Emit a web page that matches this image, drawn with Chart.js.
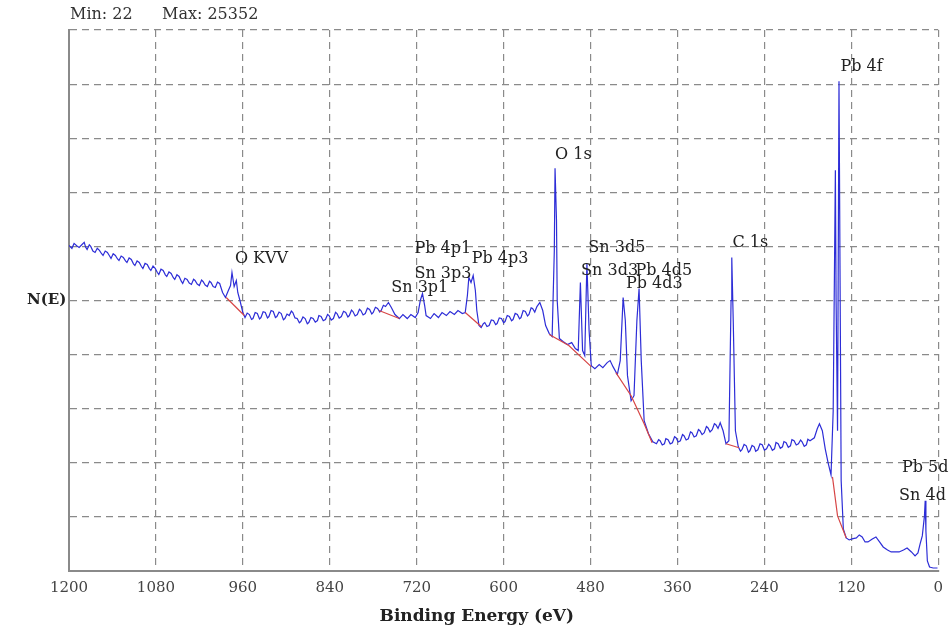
<!DOCTYPE html>
<html>
<head>
<meta charset="utf-8">
<script src="https://cdn.jsdelivr.net/npm/chart.js@4.4.1/dist/chart.umd.min.js"></script>
<style>
  html, body { margin: 0; padding: 0; background: #fff; }
  #wrap { width: 951px; height: 628px; }
</style>
</head>
<body>
<div id="wrap"><canvas id="chart" width="951" height="628"></canvas></div>
<script>
// XPS survey spectrum, binding energy (eV) vs counts
const energy = [
  1200, 1196, 1193, 1189, 1186, 1182, 1179, 1177, 1175, 1172,
  1170, 1167, 1164, 1161, 1158, 1155, 1153, 1150, 1147, 1144,
  1142, 1139, 1136, 1133, 1131, 1128, 1125, 1122, 1120, 1117,
  1114, 1111, 1109, 1106, 1103, 1100, 1098, 1095, 1092, 1089,
  1087, 1084, 1081, 1078, 1076, 1073, 1070, 1067, 1065, 1062,
  1059, 1056, 1054, 1051, 1048, 1045, 1043, 1040, 1037, 1034,
  1031, 1028, 1026, 1023, 1020, 1017, 1015, 1012, 1009, 1006,
  1004, 1001, 998, 995, 992,
  988, 984, 980, 977, 975, 972, 969, 967, 964,
  960, 957, 954, 951, 948, 946, 943, 940, 937, 935,
  932, 929, 926, 924, 921, 918, 915, 913, 910, 907,
  904, 902, 899, 896, 893, 891, 888, 885, 882, 880,
  877, 874, 871, 869, 866, 863, 860, 857, 855, 852,
  849, 846, 843, 841, 838, 835, 832, 830, 827, 824,
  821, 818, 815, 813, 810, 808, 805, 802, 799, 797,
  794, 791, 788, 785, 782, 780, 777, 774, 771, 769,
  766, 763,
  759, 755, 750, 744, 739, 733, 728, 722, 718, 715,
  712, 709, 707, 701, 696, 690, 685, 679, 674, 668,
  663, 657, 653, 650, 648, 645, 642, 639, 637, 634,
  631, 628, 626, 623, 620, 617, 614, 611, 609, 606,
  603, 600, 598, 595, 592, 589, 587, 584, 581, 578,
  576, 573, 570, 567, 565, 562, 560, 557, 554,
  550, 546, 542, 537, 533, 530, 529, 527, 526, 523,
  518, 512, 506, 501, 497, 494, 491, 488, 485, 482,
  479, 474, 468, 463, 457, 453, 449, 443, 439, 435,
  432, 429, 424, 420, 416, 413, 410, 406, 400, 394,
  389, 386, 384, 381, 378, 376, 373, 370, 367, 364,
  362, 359, 356, 353, 351, 348, 345, 342, 340, 337,
  334, 331, 329, 326, 323, 320, 318, 315, 312, 309,
  307, 304, 301,
  297, 293, 289, 286, 285, 283, 280,
  276, 273, 271, 268, 265, 262, 260, 257, 254, 252,
  249, 246, 243, 240, 237, 234, 232, 229, 226, 224,
  221, 218, 215, 213, 210, 207, 204, 202, 199, 196,
  193, 190, 188, 185, 182, 180, 177,
  171, 167, 164, 160, 156, 152, 148, 145, 142, 141,
  139, 137, 134, 131, 127, 123, 119, 113, 109, 105,
  101, 97, 91, 86, 81, 76, 70, 65, 59, 54,
  48, 43, 37, 32, 28, 25, 22, 19, 18, 17,
  15, 12, 7, 1
];
const counts = [
  16851, 16700, 16955, 16820, 16748, 16900, 17007, 16760, 16644, 16880,
  16799, 16560, 16488, 16700, 16592, 16420, 16333, 16560, 16488, 16300,
  16177, 16420, 16333, 16150, 16074, 16300, 16229, 16050, 15970, 16200,
  16125, 15900, 15814, 16050, 15970, 15760, 15659, 15920, 15866, 15650,
  15555, 15780, 15659, 15450, 15348, 15620, 15555, 15330, 15244, 15480,
  15399, 15180, 15088, 15330, 15244, 15000, 14881, 15150, 15088, 14900,
  14829, 15100, 15037, 14850, 14777, 15060, 14985, 14800, 14725, 15000,
  14933, 14720, 14674, 14950, 14881,
  14414, 14155, 14518, 14777, 15451, 14725, 15037, 14414, 14000,
  13377, 13118, 13350, 13274, 13020, 13066, 13380, 13325, 13050, 13118,
  13420, 13377, 13100, 13170, 13480, 13429, 13120, 13170, 13400, 13325,
  13000, 13066, 13300, 13222, 13450, 13377, 13100, 13066, 12850, 12911,
  13150, 13066, 12800, 12859, 13120, 13066, 12880, 12963, 13220, 13170,
  12950, 13014, 13280, 13222, 12990, 13066, 13390, 13325, 13090, 13170,
  13440, 13377, 13150, 13222, 13500, 13429, 13200, 13274, 13550, 13481,
  13250, 13325, 13600, 13533, 13300, 13377, 13650, 13585, 13400, 13481,
  13750, 13688,
  13896, 13637, 13274, 13066, 13274, 13066, 13274, 13118, 13377, 14000,
  14362, 13740, 13222, 13066, 13325, 13118, 13377, 13222, 13429, 13274,
  13481, 13325, 13377, 14259, 15192, 14933, 15296, 14518, 13481, 12703,
  12600, 12800, 12859, 12650, 12703, 12990, 12963, 12750, 12807, 13100,
  13066, 12850, 12911, 13220, 13170, 12950, 13014, 13330, 13274, 13050,
  13118, 13480, 13429, 13200, 13274, 13620, 13585, 13400, 13688,
  13896, 13481, 12703, 12288, 12133, 16592, 20844, 18148, 14000, 12029,
  11874, 11718, 11822, 11511, 11407, 14933, 11407, 11148, 15918, 12444,
  10629, 10474, 10681, 10526, 10785, 10889, 10577, 10163, 10889, 14155,
  12963, 10111, 8815, 9074, 12963, 14622, 10889, 7778, 7103, 6689,
  6585, 6800, 6741, 6520, 6585, 6850, 6792, 6580, 6637, 6950,
  6896, 6680, 6741, 7060, 7000, 6780, 6844, 7200, 7155, 6940,
  7000, 7320, 7259, 7060, 7155, 7480, 7415, 7200, 7311, 7620,
  7570, 7380, 7674,
  7259, 6585, 6741, 13999, 16229, 12963, 7259,
  6429, 6200, 6274, 6550, 6481, 6150, 6222, 6500, 6429, 6200,
  6274, 6580, 6533, 6260, 6326, 6560, 6481, 6250, 6326, 6650,
  6585, 6350, 6429, 6700, 6637, 6400, 6481, 6800, 6741, 6520,
  6585, 6780, 6689, 6450, 6533, 6820, 6741,
  6896, 7363, 7622, 7259, 6326, 5600, 4978, 8296, 20740, 13999,
  7259, 25352, 4667, 2178, 1711, 1607, 1659, 1711, 1867, 1763,
  1504, 1504, 1659, 1763, 1504, 1244, 1089, 985, 985, 985,
  1089, 1193, 985, 778, 933, 1400, 1815, 2852, 3630, 2074,
  519, 207, 156, 156
];

// Shirley backgrounds (red) under the peaks
const bgEnergy = [
  [983, 958], [772, 744], [653, 631], [537, 510, 479],
  [445, 424, 406, 395], [293, 275], [146, 139, 127]
];
const bgCounts = [
  [14155, 13222], [13481, 13066], [13377, 12651], [12237, 11666, 10577],
  [10266, 9074, 7622, 6637], [6585, 6378], [4874, 2852, 1711]
];

// Peak labels, anchored at (eV, counts) of their left edge
const peakNames = ["O KVV", "Sn 3p1", "Sn 3p3", "Pb 4p1", "Pb 4p3", "O 1s", "Sn 3d5", "Sn 3d3",
  "Pb 4d5", "Pb 4d3", "C 1s", "Pb 4f", "Pb 5d", "Sn 4d"];
const peakLabelEnergy = [971, 755, 723, 723, 644, 529, 483, 493, 418, 431, 284, 135, 50, 54];
const peakLabelCounts = [16177, 14674, 15399, 16696, 16177, 21518, 16748, 15555, 15555, 14881, 17007, 26080, 5341, 3889];

const xTicks = [1200, 1080, 960, 840, 720, 600, 480, 360, 240, 120, 0];

const serif = "'DejaVu Serif', 'Liberation Serif', serif";

const datasets = [{
  label: "spectrum",
  data: energy.map((e, i) => ({ x: e, y: counts[i] })),
  borderColor: "rgb(45, 45, 215)",
  borderWidth: 1.2,
  pointRadius: 0,
  tension: 0,
  order: 1
}];
bgEnergy.forEach((seg, k) => {
  datasets.push({
    label: "bg" + k,
    data: seg.map((e, i) => ({ x: e, y: bgCounts[k][i] })),
    borderColor: "rgb(215, 70, 70)",
    borderWidth: 1.2,
    pointRadius: 0,
    tension: 0,
    order: 0
  });
});

// Draws the peak labels, the min/max header and the axis titles
const textPlugin = {
  id: "texts",
  afterDatasetsDraw(chart) {
    const ctx = chart.ctx;
    const xs = chart.scales.x, ys = chart.scales.y;
    const area = chart.chartArea;
    ctx.save();
    ctx.fillStyle = "#222";
    ctx.textBaseline = "middle";
    ctx.textAlign = "left";
    ctx.font = "16px " + serif;
    peakNames.forEach((name, i) => {
      ctx.fillText(name, xs.getPixelForValue(peakLabelEnergy[i]), ys.getPixelForValue(peakLabelCounts[i]));
    });
    ctx.fillStyle = "#333";
    ctx.fillText("Min: 22", area.left + 1, area.top - 15);
    ctx.fillText("Max: 25352", area.left + 93, area.top - 15);
    ctx.fillStyle = "#222";
    ctx.font = "bold 15px " + serif;
    ctx.fillText("N(E)", area.left - 42, ys.getPixelForValue(14000));
    ctx.textAlign = "center";
    ctx.font = "bold 17px " + serif;
    ctx.fillText("Binding Energy (eV)", xs.getPixelForValue(637), area.bottom + 46);
    ctx.restore();
  }
};

new Chart(document.getElementById("chart"), {
  type: "line",
  data: { datasets: datasets },
  options: {
    responsive: false,
    animation: false,
    layout: { padding: { left: 69, right: 12, top: 30, bottom: 23 } },
    plugins: { legend: { display: false }, tooltip: { enabled: false } },
    scales: {
      x: {
        type: "linear",
        reverse: true,
        min: 0,
        max: 1200,
        afterBuildTicks: (axis) => { axis.ticks = xTicks.map(v => ({ value: v })); },
        ticks: {
          color: "#444",
          font: { family: serif, size: 15 },
          padding: 8,
          maxRotation: 0,
          callback: (v) => String(v)
        },
        grid: { color: "#8a8a8a", lineWidth: 1.2, drawTicks: false },
        border: { display: true, color: "#8a8a8a", width: 2, dash: [7, 5] }
      },
      y: {
        min: 0,
        max: 28000,
        ticks: { display: false, stepSize: 2800 },
        grid: { color: "#8a8a8a", lineWidth: 1.2, drawTicks: false },
        border: { display: true, color: "#8a8a8a", width: 2, dash: [7, 5] }
      }
    }
  },
  plugins: [textPlugin]
});
</script>
</body>
</html>
